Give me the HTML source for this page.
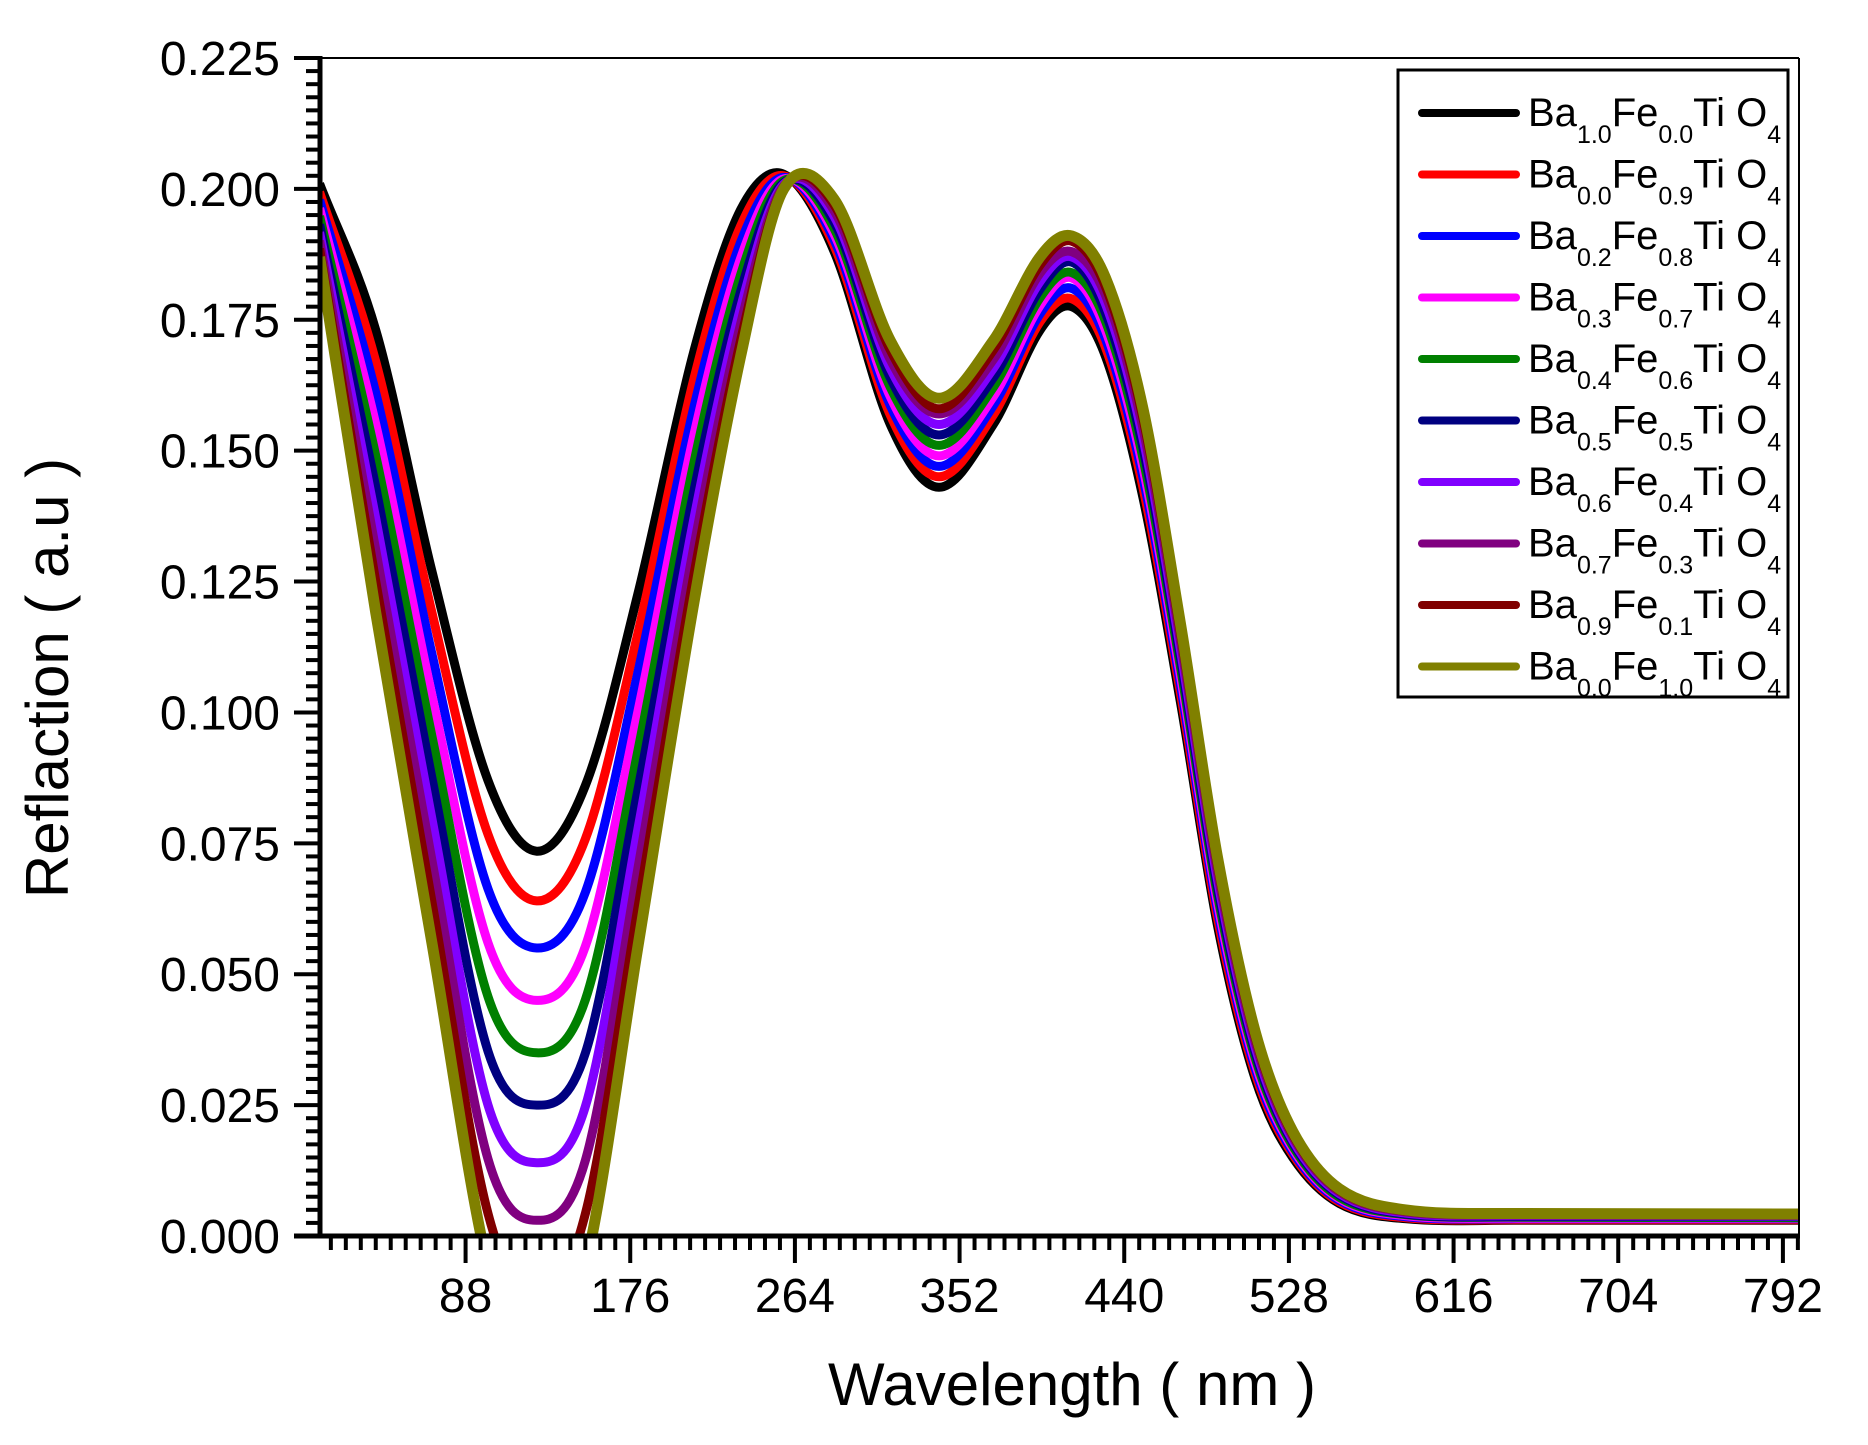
<!DOCTYPE html>
<html><head><meta charset="utf-8"><style>
html,body{margin:0;padding:0;background:#fff;}
svg{display:block;font-family:"Liberation Sans",Arial,sans-serif;}
</style></head><body>
<svg id="chart" width="1868" height="1445" viewBox="0 0 1868 1445" xmlns="http://www.w3.org/2000/svg">
<defs><clipPath id="plotclip"><rect x="320" y="58" width="1479" height="1178"/></clipPath></defs>
<g id="series" clip-path="url(#plotclip)"></g>
<g id="axes"></g>
<g id="legend"></g>
</svg>
<script>
const xGrid = [10,40,70,100,126,152,180,210,235,258,285,315,341,370,395,412,430,450,470,490,510,530,555,590,650,801];
const s0 = [0.201,0.173,0.127,0.087,0.0735,0.086,0.1225,0.169,0.196,0.2028,0.188,0.155,0.143,0.155,0.173,0.1775,0.168,0.141,0.102,0.059,0.030,0.015,0.0062,0.0033,0.003,0.003];
const s1 = [0.1994,0.167,0.1191,0.0767,0.064,0.0758,0.115,0.1637,0.1929,0.2025,0.1891,0.1568,0.145,0.1568,0.1746,0.179,0.1697,0.1429,0.1037,0.0604,0.031,0.0156,0.0065,0.0035,0.0031,0.0031];
const s2 = [0.1979,0.161,0.1112,0.0663,0.055,0.0656,0.1075,0.1583,0.1898,0.2022,0.1902,0.1586,0.147,0.1586,0.1761,0.181,0.1713,0.1448,0.1053,0.0619,0.032,0.0161,0.0068,0.0037,0.0033,0.0033];
const s3 = [0.1963,0.155,0.1033,0.056,0.045,0.0553,0.100,0.153,0.1867,0.2019,0.1913,0.1603,0.149,0.1603,0.1777,0.183,0.173,0.1467,0.107,0.0633,0.033,0.0167,0.0071,0.0039,0.0034,0.0034];
const s4 = [0.1948,0.149,0.0955,0.0457,0.035,0.0451,0.0925,0.1477,0.1836,0.2016,0.1924,0.1621,0.151,0.1621,0.1792,0.184,0.1747,0.1485,0.1087,0.0648,0.034,0.0172,0.0074,0.0041,0.0036,0.0035];
const s5 = [0.1932,0.143,0.0875,0.0353,0.025,0.0349,0.085,0.1423,0.1804,0.2012,0.1936,0.1639,0.153,0.1639,0.1808,0.186,0.1763,0.1505,0.1103,0.0662,0.035,0.0178,0.0078,0.0042,0.0037,0.0037];
const s6 = [0.1917,0.137,0.0797,0.025,0.014,0.0247,0.0775,0.137,0.1773,0.2009,0.1947,0.1657,0.155,0.1657,0.1823,0.187,0.178,0.1523,0.112,0.0677,0.036,0.0183,0.0081,0.0044,0.0039,0.0038];
const s7 = [0.1901,0.131,0.0718,0.0147,0.003,0.0144,0.070,0.1317,0.1742,0.2006,0.1958,0.1674,0.157,0.1674,0.1839,0.188,0.1797,0.1542,0.1137,0.0691,0.037,0.0189,0.0084,0.0046,0.004,0.0039];
const s8 = [0.1886,0.125,0.0639,0.0043,-0.012,0.0042,0.0625,0.1263,0.1711,0.2003,0.1969,0.1692,0.158,0.1692,0.1854,0.190,0.1813,0.1561,0.1153,0.0706,0.038,0.0194,0.0087,0.0048,0.0042,0.0041];
const s9 = [0.187,0.119,0.056,-0.006,-0.027,-0.006,0.055,0.121,0.168,0.200,0.198,0.171,0.160,0.171,0.187,0.191,0.183,0.158,0.117,0.072,0.039,0.020,0.009,0.005,0.0043,0.0042];
const baSub = ["1.0","0.0","0.2","0.3","0.4","0.5","0.6","0.7","0.9","0.0"];
const feSub = ["0.0","0.9","0.8","0.7","0.6","0.5","0.4","0.3","0.1","1.0"];
const xTicks = [88,176,264,352,440,528,616,704,792];
const yTicks = [0,0.025,0.05,0.075,0.1,0.125,0.15,0.175,0.2,0.225];
const yTickLabels = ["0.000","0.025","0.050","0.075","0.100","0.125","0.150","0.175","0.200","0.225"];

const allSeries = [s0,s1,s2,s3,s4,s5,s6,s7,s8,s9];
const colors = ["#000000","#ff0000","#0000ff","#ff00ff","#008000","#000080","#8000ff","#800080","#800000","#808000"];
const NS = "http://www.w3.org/2000/svg";
const X0 = 320, X1 = 1799, Y0 = 1236, Y1 = 58;
const xMin = 10.2, xMax = 800.6, yMin = 0, yMax = 0.225;
function sx(v){ return X0 + (v - xMin) / (xMax - xMin) * (X1 - X0); }
function sy(v){ return Y0 - (v - yMin) / (yMax - yMin) * (Y0 - Y1); }
function mk(tag, attrs, parent){ const e = document.createElementNS(NS, tag); for (const k in attrs) e.setAttribute(k, attrs[k]); parent.appendChild(e); return e; }

function pathFor(ys){
  const p = xGrid.map((x,i)=>[sx(x), sy(ys[i])]);
  let d = "M" + p[0][0].toFixed(1) + "," + p[0][1].toFixed(1);
  for (let i = 0; i < p.length - 1; i++){
    const a = p[Math.max(0,i-1)], b = p[i], c = p[i+1], e = p[Math.min(p.length-1,i+2)];
    const h = c[0] - b[0];
    const m1 = (c[1]-a[1])/((c[0]-a[0])||1), m2 = (e[1]-b[1])/((e[0]-b[0])||1);
    const c1x = b[0] + h/3, c1y = b[1] + m1*h/3;
    const c2x = c[0] - h/3, c2y = c[1] - m2*h/3;
    d += " C" + c1x.toFixed(1)+","+c1y.toFixed(1)+" "+c2x.toFixed(1)+","+c2y.toFixed(1)+" "+c[0].toFixed(1)+","+c[1].toFixed(1);
  }
  return d;
}

const gS = document.getElementById("series");
allSeries.forEach((ys, i) => {
  const path = mk("path", {d: pathFor(ys), fill: "none", stroke: colors[i], "stroke-width": i === 9 ? 11 : 9, "stroke-linejoin": "round"}, gS);
  
  
});

const gA = document.getElementById("axes");
const frameTop = mk("line", {x1: X0, y1: Y1, x2: X1, y2: Y1, stroke: "#000", "stroke-width": 2}, gA);


const frameRight = mk("line", {x1: X1, y1: Y1, x2: X1, y2: Y0, stroke: "#000", "stroke-width": 2}, gA);


for (let k = 0; k <= 90; k++){
  const v = k * 0.0025, y = sy(v);
  const major = k % 10 === 0;
  const t = mk("line", {x1: major ? X0 - 26 : X0 - 14, y1: y, x2: X0, y2: y, stroke: "#000", "stroke-width": 4}, gA);
  
  
}
for (let v = 16; v <= 800; v += 8){
  const x = sx(v), major = v % 88 === 0;
  const t = mk("line", {x1: x, y1: Y0, x2: x, y2: major ? Y0 + 27 : Y0 + 14, stroke: "#000", "stroke-width": 4}, gA);
  
  
}
const yAxis = mk("line", {x1: X0, y1: Y1 - 2, x2: X0, y2: Y0 + 2, stroke: "#000", "stroke-width": 5}, gA);


const xAxis = mk("line", {x1: X0 - 26, y1: Y0, x2: X1 + 1, y2: Y0, stroke: "#000", "stroke-width": 5}, gA);


yTicks.forEach((v, i) => {
  const t = mk("text", {x: 280, y: sy(v) + 17, "text-anchor": "end", "font-size": 48, fill: "#000"}, gA);
  t.textContent = yTickLabels[i];
  
  
});
xTicks.forEach(v => {
  const t = mk("text", {x: sx(v), y: 1312, "text-anchor": "middle", "font-size": 48, fill: "#000"}, gA);
  t.textContent = String(v);
  
  
});
const xt = mk("text", {x: 1072, y: 1405, "text-anchor": "middle", "font-size": 60, fill: "#000"}, gA);
xt.textContent = "Wavelength ( nm )";


const yt = mk("text", {x: 0, y: 0, "text-anchor": "middle", "font-size": 60, fill: "#000", transform: "translate(68,678) rotate(-90)"}, gA);
yt.textContent = "Reflaction ( a.u )";



const gL = document.getElementById("legend");
const box = mk("rect", {x: 1398, y: 70, width: 390, height: 627, fill: "#fff", stroke: "#000", "stroke-width": 3}, gL);


colors.forEach((c, i) => {
  const ly = 113 + i * 61.5;
  const g = mk("g", {}, gL);
  
  
  const ln = mk("line", {x1: 1422, y1: ly, x2: 1516, y2: ly, stroke: c, "stroke-width": 8, "stroke-linecap": "round"}, g);
  
  
  const t = mk("text", {x: 1528, y: ly + 13, "font-size": 40, fill: "#000"}, g);
  
  
  t.innerHTML = 'Ba<tspan font-size="25" dy="17">' + baSub[i] + '</tspan><tspan dy="-17">Fe</tspan><tspan font-size="25" dy="17">' + feSub[i] + '</tspan><tspan dy="-17">Ti O</tspan><tspan font-size="25" dy="17">4</tspan>';
});
</script>
</body></html>
